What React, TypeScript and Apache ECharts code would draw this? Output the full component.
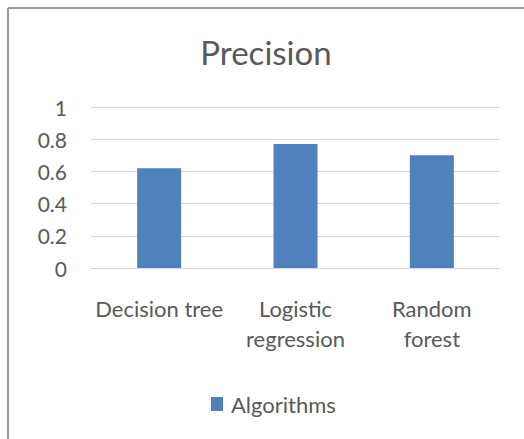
import React, { useEffect, useRef } from "react";
import * as echarts from "echarts";

const categories = ["Decision tree", "Logistic\nregression", "Random\nforest"];
const seriesName = "Algorithms";
const values = [0.62, 0.77, 0.7];
const titleText = "Precision";

const FONT = "Lato, 'Open Sans', sans-serif";
const TEXT = "#595959";

export default function App() {
  const ref = useRef<HTMLDivElement>(null);
  useEffect(() => {
    if (!ref.current) return;
    const chart = echarts.init(ref.current, undefined, { renderer: "svg" });
    chart.setOption({
      animation: false,
      backgroundColor: "#ffffff",
      title: {
        text: titleText,
        left: 261,
        textAlign: "center",
        top: 30,
        textStyle: { fontFamily: FONT, fontSize: 33, fontWeight: "normal", color: TEXT },
      },
      legend: {
        data: [seriesName],
        left: 206,
        top: 388,
        itemWidth: 12,
        itemHeight: 14,
        icon: "rect",
        textStyle: { fontFamily: FONT, fontSize: 22, color: TEXT, padding: [0, 0, 0, 3] },
      },
      grid: { left: 91, right: 24, top: 107, bottom: 171, containLabel: false },
      xAxis: {
        type: "category",
        data: categories,
        axisLine: { show: true, lineStyle: { color: "#d9d9d9", width: 1 } },
        axisTick: { show: false },
        axisLabel: {
          interval: 0,
          margin: 25,
          fontFamily: FONT,
          fontSize: 22,
          lineHeight: 30,
          color: TEXT,
        },
      },
      yAxis: {
        type: "value",
        min: 0,
        max: 1,
        interval: 0.2,
        axisLine: { show: false },
        axisTick: { show: false },
        splitLine: { lineStyle: { color: "#d9d9d9", width: 1 } },
        axisLabel: { margin: 24, fontFamily: FONT, fontSize: 21, color: TEXT },
      },
      series: [
        {
          name: seriesName,
          type: "bar",
          data: values,
          barWidth: 44,
          itemStyle: { color: "#4f81bd" },
        },
      ],
      graphic: [
        { type: "line", shape: { x1: 8, y1: 8, x2: 524, y2: 8 }, style: { stroke: "#9a9a9a", lineWidth: 2 } },
        { type: "line", shape: { x1: 8, y1: 8, x2: 8, y2: 439 }, style: { stroke: "#9a9a9a", lineWidth: 2 } },
      ],
    });
    return () => chart.dispose();
  }, []);
  return (
    <div
      ref={ref}
      style={{ position: "fixed", left: 0, top: 0, width: 524, height: 439 }}
    />
  );
}
